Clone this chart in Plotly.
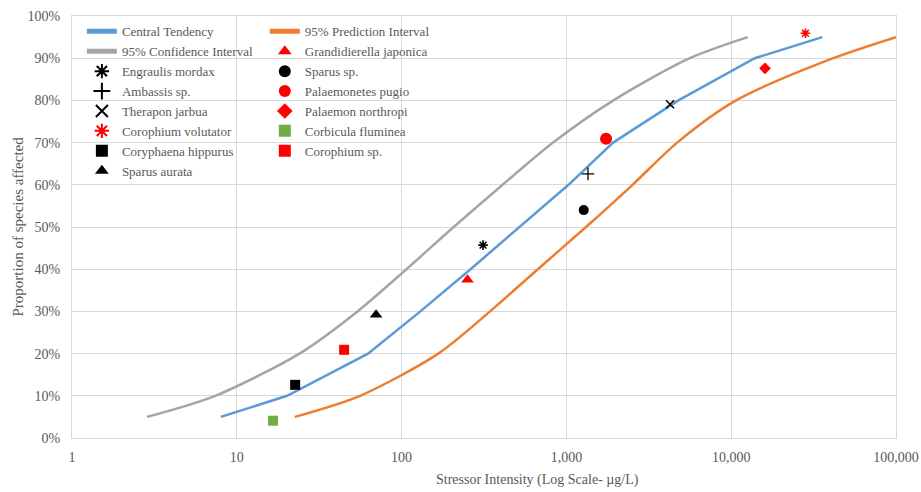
import plotly.graph_objects as go

# ---- data ----
curve_y = [0.05, 0.10, 0.20, 0.30, 0.40, 0.50, 0.60, 0.70, 0.80, 0.90, 0.95]
central_x = [8.0, 20.2, 62.5, 130, 262, 521, 1030, 1920, 4780, 13900, 35700]
conf_x = [2.85, 7.4, 24.0, 54, 107, 207, 410, 830, 1930, 5600, 12600]
pred_x = [22.5, 56, 167, 344, 671, 1315, 2520, 4700, 10700, 41600, 100000]

species_left = ["Engraulis mordax", "Ambassis sp.", "Therapon jarbua", "Corophium volutator",
                "Coryphaena hippurus", "Sparus aurata"]
species_left_x = [312, 1352, 4254, 28200, 22.6, 70]
species_left_y = [0.457, 0.626, 0.791, 0.959, 0.126, 0.292]

species_right = ["Grandidierella japonica", "Sparus sp.", "Palaemonetes pugio", "Palaemon northropi",
                 "Corbicula fluminea", "Corophium sp."]
species_right_x = [251, 1274, 1740, 16040, 16.6, 44.8]
species_right_y = [0.375, 0.540, 0.709, 0.876, 0.041, 0.209]

x_tickvals = [1, 10, 100, 1000, 10000, 100000]
x_ticktext = ["1", "10", "100", "1,000", "10,000", "100,000"]

# ---- styles ----
BLUE, ORANGE, GRAY = "#5B9BD5", "#ED7D31", "#A5A5A5"
RED, BLACK, GREEN = "#FF0000", "#000000", "#70AD47"
left_styles = [
    dict(symbol="asterisk-open", size=8, color=BLACK, line=dict(width=1.6, color=BLACK)),
    dict(symbol="cross-thin-open", size=9, color=BLACK, line=dict(width=1.3, color=BLACK)),
    dict(symbol="x-thin-open", size=8, color=BLACK, line=dict(width=1.5, color=BLACK)),
    dict(symbol="asterisk-open", size=8, color=RED, line=dict(width=1.6, color=RED)),
    dict(symbol="square", size=10, color=BLACK),
    dict(symbol="triangle-up", size=11, color=BLACK),
]
right_styles = [
    dict(symbol="triangle-up", size=11, color=RED),
    dict(symbol="circle", size=10, color=BLACK),
    dict(symbol="circle", size=12, color=RED),
    dict(symbol="diamond", size=9, color=RED),
    dict(symbol="square", size=10, color=GREEN),
    dict(symbol="square", size=10, color=RED),
]

FONT = "Liberation Serif"
TXT = "#595959"
GRID = "#D9D9D9"

fig = go.Figure()
fig.add_trace(go.Scatter(x=conf_x, y=curve_y, mode="lines", name="95% Confidence Interval",
                         line=dict(color=GRAY, width=2.5, shape="spline", smoothing=0.8),
                         legend="legend", legendrank=2))
fig.add_trace(go.Scatter(x=pred_x, y=curve_y, mode="lines", name="95% Prediction Interval",
                         line=dict(color=ORANGE, width=2.5, shape="spline", smoothing=0.8),
                         legend="legend2", legendrank=1))
fig.add_trace(go.Scatter(x=central_x, y=curve_y, mode="lines", name="Central Tendency",
                         line=dict(color=BLUE, width=2.5), legend="legend", legendrank=1))

for i, (n, x, y, st) in enumerate(zip(species_left, species_left_x, species_left_y, left_styles)):
    fig.add_trace(go.Scatter(x=[x], y=[y], mode="markers", name=n, marker=st,
                             legend="legend", legendrank=3 + i))
for i, (n, x, y, st) in enumerate(zip(species_right, species_right_x, species_right_y, right_styles)):
    fig.add_trace(go.Scatter(x=[x], y=[y], mode="markers", name=n, marker=st,
                             legend="legend2", legendrank=2 + i))

legend_common = dict(bgcolor="rgba(0,0,0,0)", borderwidth=0, font=dict(family=FONT, size=13, color=TXT),
                     yanchor="top", xanchor="left", tracegroupgap=0, traceorder="normal",
                     itemsizing="constant")

fig.update_layout(
    width=921, height=492,
    margin=dict(l=72, r=25, t=16, b=54, autoexpand=False),
    paper_bgcolor="white", plot_bgcolor="white",
    font=dict(family=FONT, color=TXT, size=14),
    legend=dict(x=0.012, y=0.999, **legend_common),
    legend2=dict(x=0.234, y=0.999, **legend_common),
    xaxis=dict(type="log", range=[0, 5], tickvals=x_tickvals, ticktext=x_ticktext,
               showgrid=True, gridcolor=GRID, gridwidth=1, showline=True, linecolor=GRID,
               mirror=True, ticks="", ticklabelstandoff=6, zeroline=False, automargin=False,
               tickfont=dict(family=FONT, size=14, color=TXT)),
    yaxis=dict(range=[0, 1], dtick=0.1, tickformat=".0%", showgrid=True, gridcolor=GRID,
               gridwidth=1, showline=True, linecolor=GRID, mirror=True, ticks="",
               ticklabelstandoff=8, zeroline=False, automargin=False,
               tickfont=dict(family=FONT, size=14, color=TXT)),
    annotations=[
        dict(text="Stressor Intensity (Log Scale- µg/L)", xref="paper", yref="paper",
             x=(537 - 72) / 824, y=(438 - 480) / 422, xanchor="center", yanchor="middle",
             showarrow=False, font=dict(family=FONT, size=14, color=TXT)),
        dict(text="Proportion of species affected", xref="paper", yref="paper",
             x=(17.5 - 72) / 824, y=0.5, xanchor="center", yanchor="middle", textangle=-90,
             showarrow=False, font=dict(family=FONT, size=15, color=TXT)),
    ],
)

fig.write_html("out.html")
